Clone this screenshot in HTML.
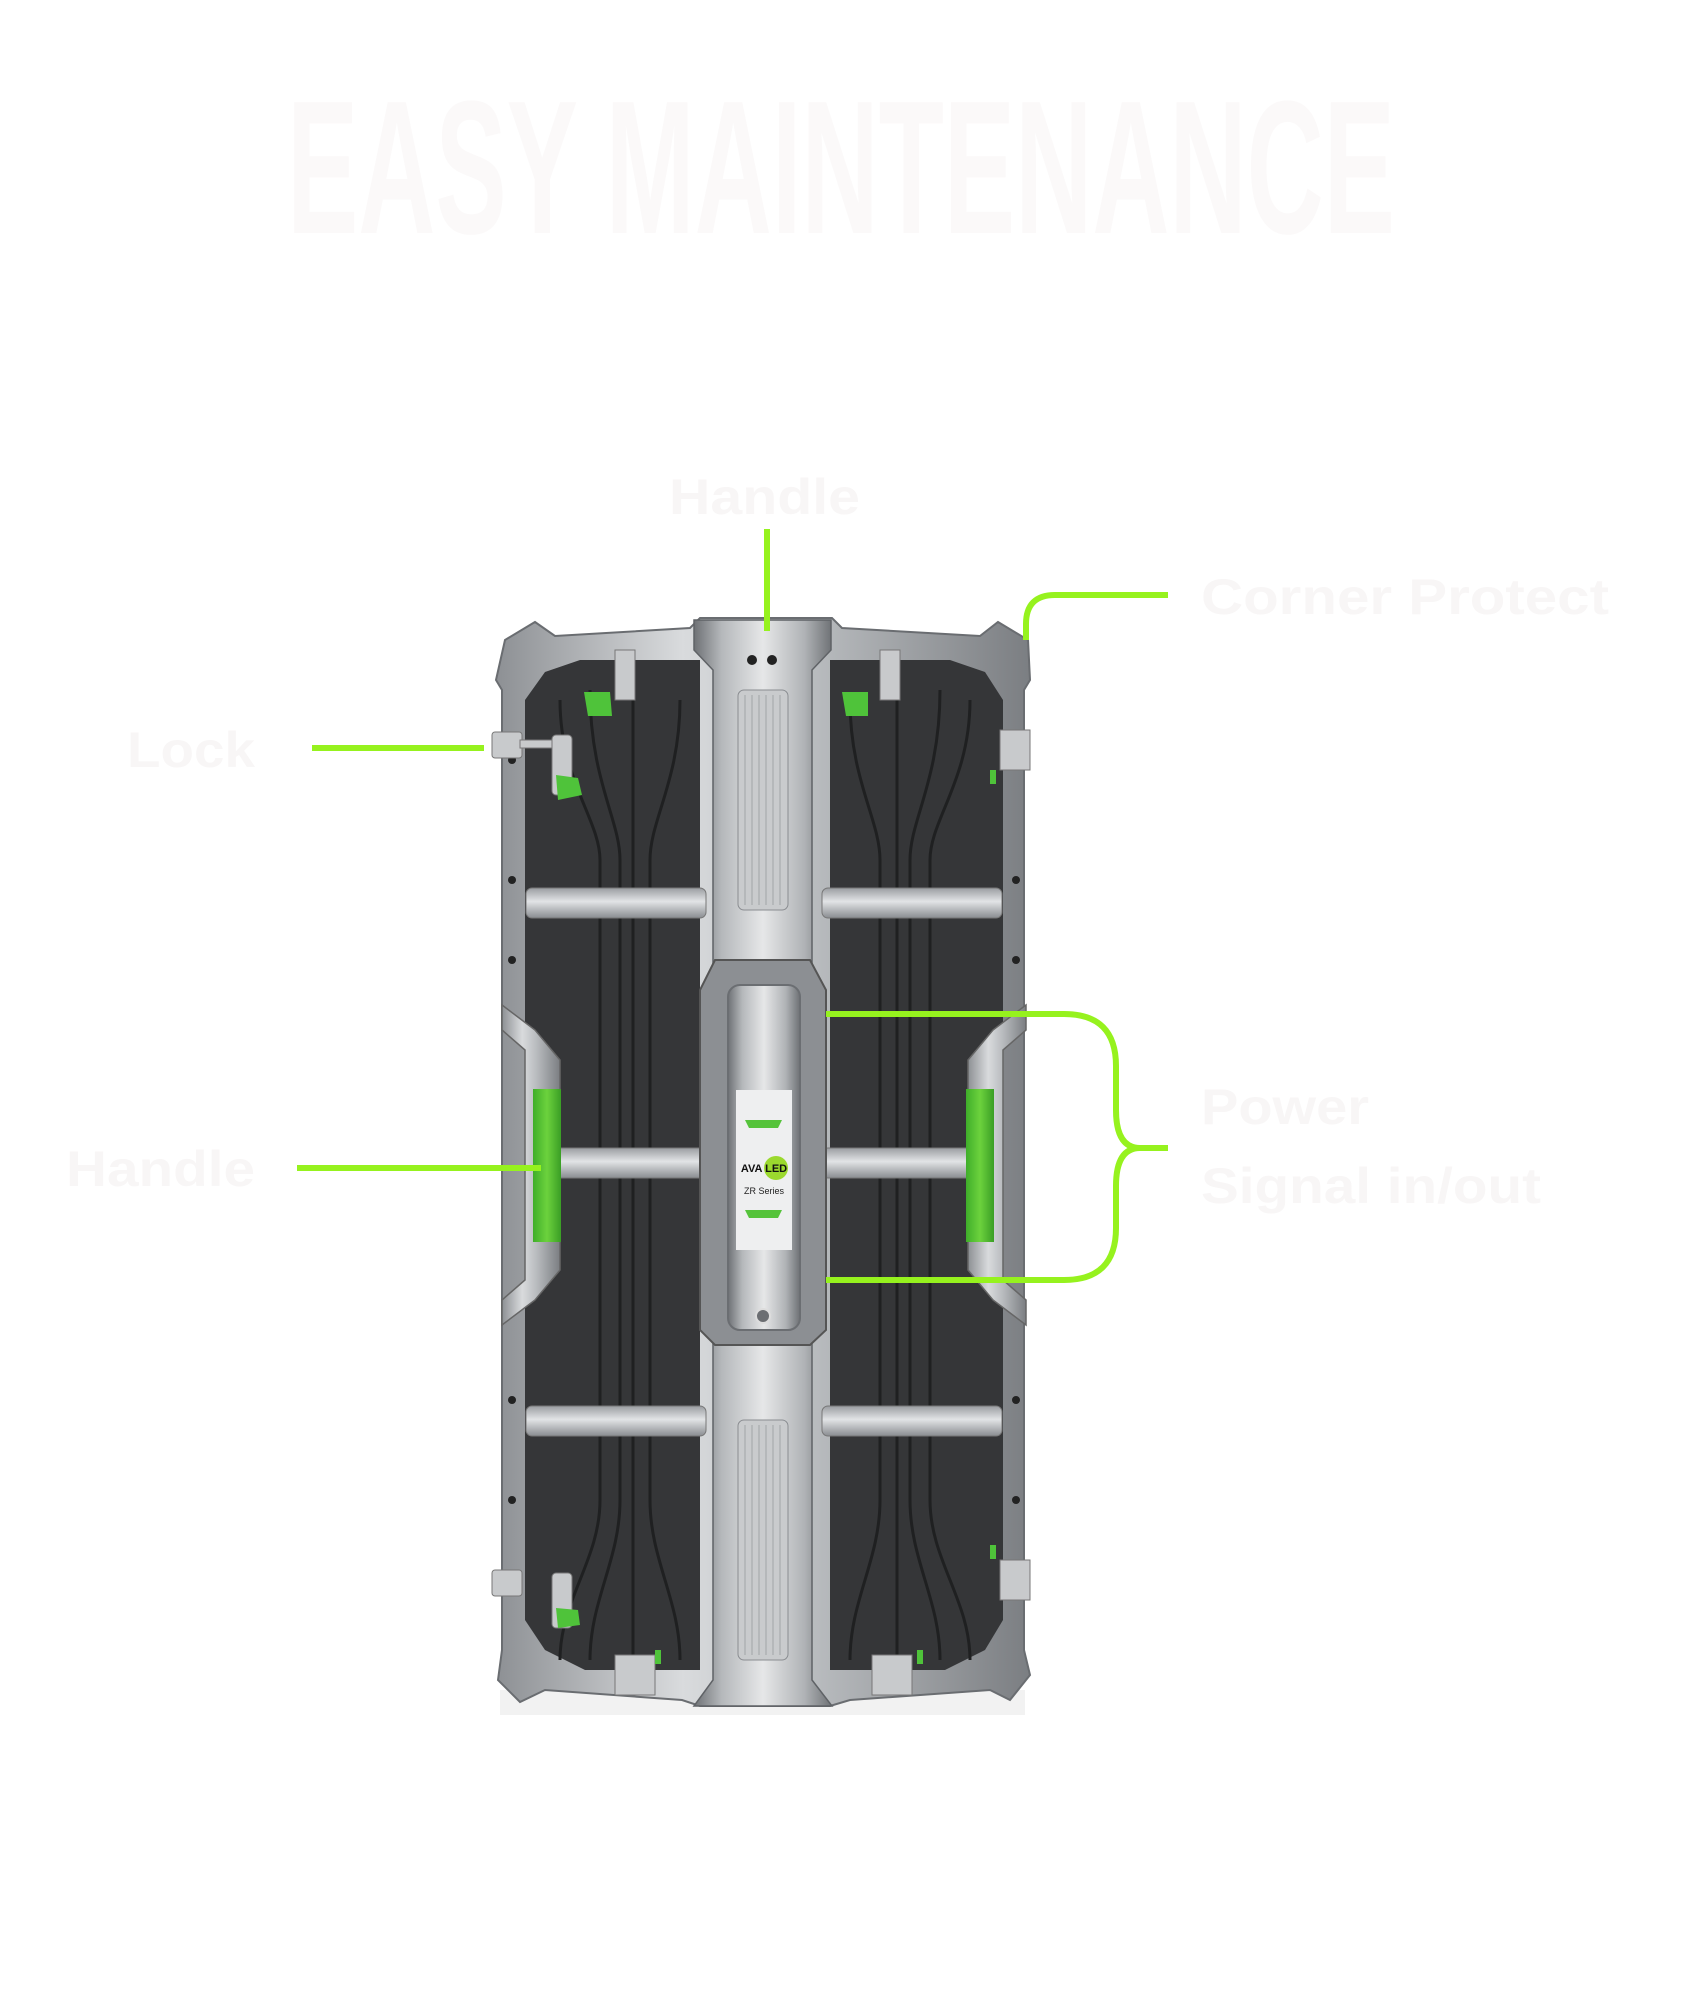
<!DOCTYPE html>
<html><head><meta charset="utf-8"><style>
html,body{margin:0;padding:0;background:#fff;}
svg{display:block;}
</style></head><body>
<svg width="1682" height="2001" viewBox="0 0 1682 2001" xmlns="http://www.w3.org/2000/svg">
<defs>
<linearGradient id="silv" x1="0" y1="0" x2="1" y2="0">
<stop offset="0" stop-color="#8d9094"/><stop offset="0.35" stop-color="#d9dbdd"/><stop offset="0.6" stop-color="#b8bbbe"/><stop offset="1" stop-color="#7b7e82"/>
</linearGradient>
<linearGradient id="silvV" x1="0" y1="0" x2="0" y2="1">
<stop offset="0" stop-color="#9a9da1"/><stop offset="0.45" stop-color="#e2e4e6"/><stop offset="1" stop-color="#8a8d91"/>
</linearGradient>
<linearGradient id="spine" x1="0" y1="0" x2="1" y2="0">
<stop offset="0" stop-color="#6e7175"/><stop offset="0.2" stop-color="#b5b8bb"/><stop offset="0.5" stop-color="#e6e7e8"/><stop offset="0.8" stop-color="#b0b3b6"/><stop offset="1" stop-color="#6e7175"/>
</linearGradient>
<linearGradient id="grn" x1="0" y1="0" x2="1" y2="0">
<stop offset="0" stop-color="#3fae2a"/><stop offset="0.5" stop-color="#6cd23d"/><stop offset="1" stop-color="#3a9e25"/>
</linearGradient>
</defs>

<!-- Title -->
<text x="287" y="233" font-family="'Liberation Sans Narrow','Liberation Sans',sans-serif" font-weight="700" font-size="190" fill="#fbf9f9" textLength="1108" lengthAdjust="spacingAndGlyphs">EASY MAINTENANCE</text>

<!-- Labels -->
<g font-family="'Liberation Sans',sans-serif" font-weight="700" font-size="50" fill="#f8f6f6" lengthAdjust="spacingAndGlyphs">
<text x="669" y="514" textLength="191" lengthAdjust="spacingAndGlyphs">Handle</text>
<text x="1201" y="614" textLength="408" lengthAdjust="spacingAndGlyphs">Corner Protect</text>
<text x="127" y="767" textLength="128" lengthAdjust="spacingAndGlyphs">Lock</text>
<text x="66" y="1186" textLength="189" lengthAdjust="spacingAndGlyphs">Handle</text>
<text x="1201" y="1124" textLength="168" lengthAdjust="spacingAndGlyphs">Power</text>
<text x="1201" y="1203" textLength="340" lengthAdjust="spacingAndGlyphs">Signal in/out</text>
</g>

<!-- Panel shadow -->
<rect x="500" y="1690" width="525" height="25" fill="#f2f2f2"/>

<!-- Outer frame -->
<path d="M505 640 L535 622 L555 636 L690 628 L700 618 L832 618 L842 628 L980 636 L998 622 L1028 640 L1030 680 L1024 690 L1024 1650 L1030 1675 L1010 1700 L990 1690 L850 1700 L830 1706 L700 1706 L682 1700 L545 1690 L520 1702 L498 1680 L502 1650 L502 690 L496 680 Z" fill="url(#silv)" stroke="#6a6d71" stroke-width="2"/>
<!-- inner dark -->
<path d="M545 672 L580 660 L700 660 L700 1670 L585 1670 L545 1650 L525 1620 L525 700 Z" fill="#353638"/>
<path d="M985 672 L950 660 L830 660 L830 1670 L945 1670 L985 1650 L1003 1620 L1003 700 Z" fill="#353638"/>
<!-- channel lines pattern -->
<g fill="none" stroke="#1f2021" stroke-width="3">
<path d="M560 700 C560 780 600 820 600 860 L600 1500 C600 1560 560 1600 560 1660"/>
<path d="M590 690 C590 780 620 820 620 860 L620 1500 C620 1560 590 1600 590 1660"/>
<path d="M680 700 C680 780 650 820 650 860 L650 1500 C650 1560 680 1600 680 1660"/>
<path d="M970 700 C970 780 930 820 930 860 L930 1500 C930 1560 970 1600 970 1660"/>
<path d="M940 690 C940 780 910 820 910 860 L910 1500 C910 1560 940 1600 940 1660"/>
<path d="M850 700 C850 780 880 820 880 860 L880 1500 C880 1560 850 1600 850 1660"/>
<path d="M633 660 L633 1670 M897 660 L897 1670"/>
</g>
<!-- side bolts -->
<g fill="#222">
<circle cx="512" cy="760" r="4"/><circle cx="512" cy="880" r="4"/><circle cx="512" cy="960" r="4"/><circle cx="512" cy="1400" r="4"/><circle cx="512" cy="1500" r="4"/>
<circle cx="1016" cy="760" r="4"/><circle cx="1016" cy="880" r="4"/><circle cx="1016" cy="960" r="4"/><circle cx="1016" cy="1400" r="4"/><circle cx="1016" cy="1500" r="4"/>
</g>

<!-- crossbars -->
<g>
<rect x="526" y="888" width="180" height="30" rx="6" fill="url(#silvV)" stroke="#777" stroke-width="1"/>
<rect x="822" y="888" width="180" height="30" rx="6" fill="url(#silvV)" stroke="#777" stroke-width="1"/>
<rect x="526" y="1148" width="180" height="30" rx="6" fill="url(#silvV)" stroke="#777" stroke-width="1"/>
<rect x="822" y="1148" width="180" height="30" rx="6" fill="url(#silvV)" stroke="#777" stroke-width="1"/>
<rect x="526" y="1406" width="180" height="30" rx="6" fill="url(#silvV)" stroke="#777" stroke-width="1"/>
<rect x="822" y="1406" width="180" height="30" rx="6" fill="url(#silvV)" stroke="#777" stroke-width="1"/>
</g>

<!-- side handle brackets -->
<path d="M502 1005 L535 1030 L560 1060 L560 1270 L535 1300 L502 1325 L502 1300 L525 1280 L525 1050 L502 1030 Z" fill="url(#silv)" stroke="#666" stroke-width="1.5"/>
<path d="M1026 1005 L993 1030 L968 1060 L968 1270 L993 1300 L1026 1325 L1026 1300 L1003 1280 L1003 1050 L1026 1030 Z" fill="url(#silv)" stroke="#666" stroke-width="1.5"/>
<rect x="533" y="1089" width="28" height="153" fill="url(#grn)"/>
<rect x="966" y="1089" width="28" height="153" fill="url(#grn)"/>

<!-- spine -->
<path d="M694 620 L831 620 L831 650 L812 670 L812 1680 L832 1706 L694 1706 L713 1680 L713 670 L694 650 Z" fill="url(#spine)" stroke="#5f6266" stroke-width="1.5"/>
<rect x="738" y="690" width="50" height="220" rx="6" fill="#c9cbcd" stroke="#8a8d91"/>
<rect x="738" y="1420" width="50" height="240" rx="6" fill="#c9cbcd" stroke="#8a8d91"/>
<g stroke="#a1a4a7" stroke-width="1">
<path d="M745 695V905M752 695V905M759 695V905M766 695V905M773 695V905M780 695V905"/>
<path d="M745 1425V1655M752 1425V1655M759 1425V1655M766 1425V1655M773 1425V1655M780 1425V1655"/>
</g>
<circle cx="752" cy="660" r="5" fill="#222"/><circle cx="772" cy="660" r="5" fill="#222"/>
<!-- center module -->
<path d="M715 960 L810 960 L826 990 L826 1330 L810 1345 L715 1345 L700 1330 L700 990 Z" fill="#8c8f93" stroke="#555" stroke-width="2"/>
<rect x="728" y="985" width="72" height="345" rx="12" fill="url(#spine)" stroke="#6b6e72" stroke-width="2"/>
<rect x="736" y="1090" width="56" height="160" fill="#eeeff0"/>
<path d="M745 1120 L782 1120 L778 1128 L749 1128 Z" fill="#55c33b"/>
<path d="M745 1210 L782 1210 L778 1218 L749 1218 Z" fill="#55c33b"/>
<circle cx="776" cy="1168" r="12" fill="#9bd92e"/>
<text x="764" y="1172" text-anchor="middle" font-family="'Liberation Sans',sans-serif" font-weight="700" font-size="11" fill="#111">AVA LED</text>
<text x="764" y="1194" text-anchor="middle" font-family="'Liberation Sans',sans-serif" font-size="9" fill="#222">ZR Series</text>
<circle cx="763" cy="1316" r="7" fill="#6b6e72" stroke="#ddd" stroke-width="2"/>

<!-- locks -->
<g fill="#c8cacc" stroke="#777">
<rect x="492" y="732" width="30" height="26" rx="3"/>
<rect x="520" y="740" width="36" height="8"/>
<rect x="552" y="735" width="20" height="60" rx="4"/>
<rect x="492" y="1570" width="30" height="26" rx="3"/>
<rect x="552" y="1573" width="20" height="55" rx="4"/>
<rect x="615" y="650" width="20" height="50"/>
<rect x="880" y="650" width="20" height="50"/>
<rect x="1000" y="730" width="30" height="40"/>
<rect x="1000" y="1560" width="30" height="40"/>
<rect x="615" y="1655" width="40" height="40"/>
<rect x="872" y="1655" width="40" height="40"/>
</g>
<g fill="#4fc33a">
<path d="M556 775 L578 778 L582 795 L558 800 Z"/>
<path d="M556 1608 L578 1610 L580 1625 L558 1628 Z"/>
<path d="M584 692 L610 692 L612 716 L588 716 Z"/>
<path d="M842 692 L868 692 L868 716 L846 716 Z"/>
<rect x="990" y="770" width="6" height="14"/>
<rect x="990" y="1545" width="6" height="14"/>
<rect x="655" y="1650" width="6" height="14"/>
<rect x="917" y="1650" width="6" height="14"/>
</g>

<!-- green connectors -->
<g fill="none" stroke="#96f21e" stroke-width="6">
<path d="M767 529 L767 631"/>
<path d="M1168 595 L1055 595 Q1026 595 1026 624 L1026 640"/>
<path d="M312 748 L484 748"/>
<path d="M297 1168 L541 1168"/>
<path d="M826 1014 L1064 1014 Q1116 1014 1116 1066 L1116 1110 Q1116 1148 1140 1148 L1168 1148 M1140 1148 Q1116 1148 1116 1186 L1116 1228 Q1116 1280 1064 1280 L826 1280"/>
</g>
</svg>
</body></html>
